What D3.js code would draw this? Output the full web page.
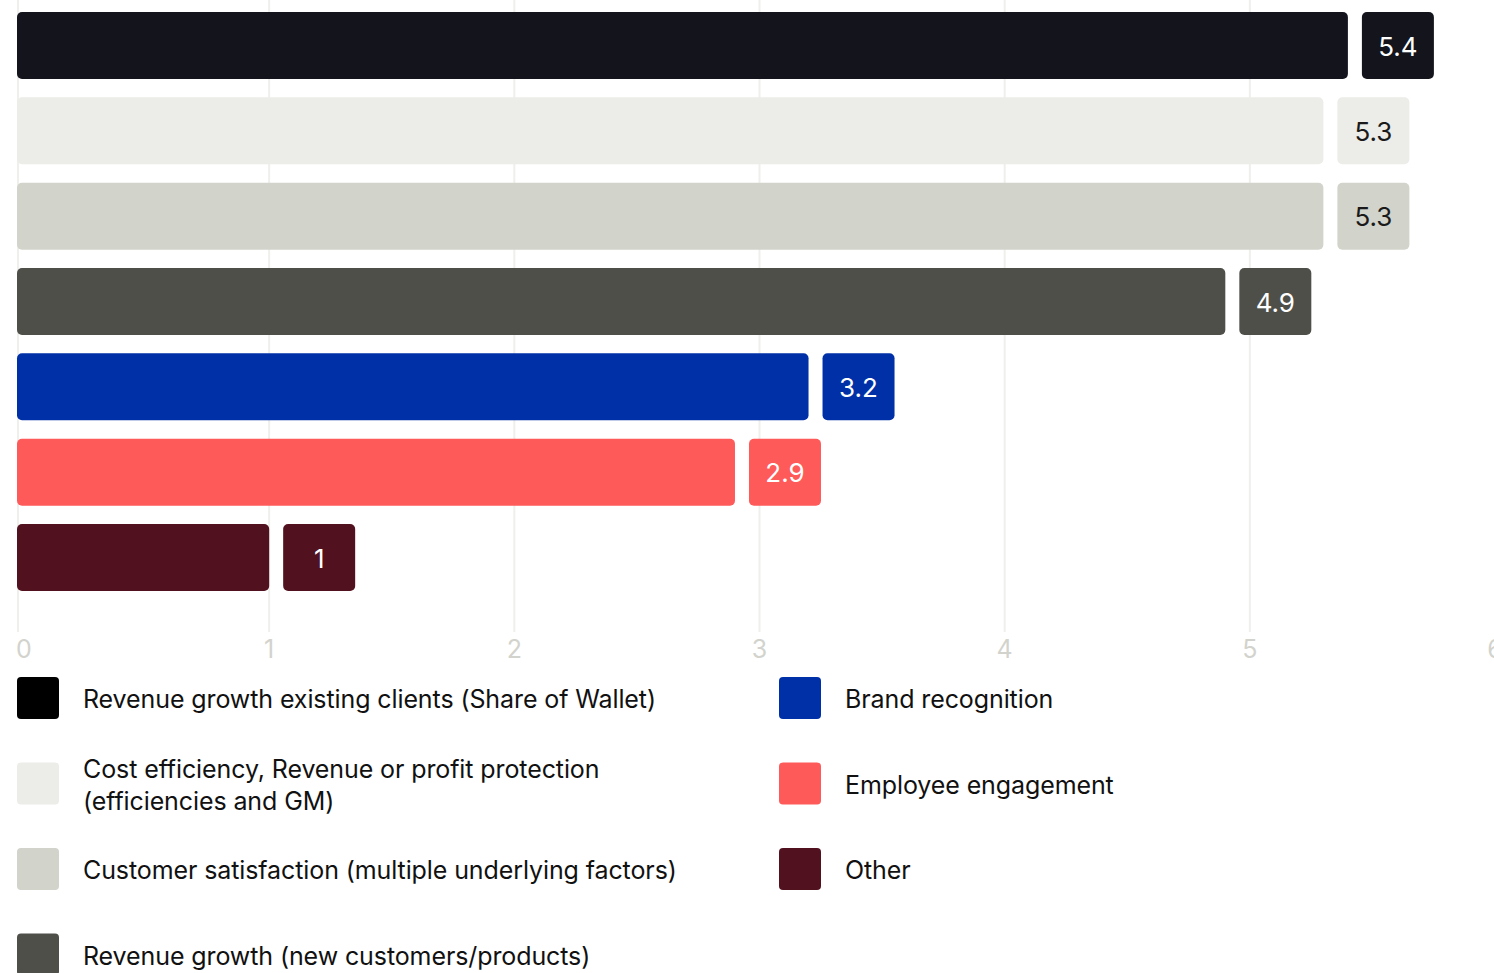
<!DOCTYPE html>
<html>
<head>
<meta charset="utf-8">
<script src="https://cdn.jsdelivr.net/npm/d3@7"></script>
<style>
  html, body { margin: 0; padding: 0; background: #ffffff; }
  svg { display: block; font-family: Inter, "Noto Sans", sans-serif; }
</style>
</head>
<body>
<svg id="chart" width="1494" height="973"></svg>
<script>
// Drivers of value, ranked
const categories = [
  "Revenue growth existing clients (Share of Wallet)",
  "Cost efficiency, Revenue or profit protection (efficiencies and GM)",
  "Customer satisfaction (multiple underlying factors)",
  "Revenue growth (new customers/products)",
  "Brand recognition",
  "Employee engagement",
  "Other"
];
const values = [5.4, 5.3, 5.3, 4.9, 3.2, 2.9, 1];
const barColors = ["#13141c", "#ecece8", "#d2d3cb", "#4f4f4a", "#0030a8", "#ff5a5a", "#52111e"];
const swatchColors = ["#000000", "#ecece8", "#d2d3cb", "#4f4f4a", "#0030a8", "#ff5a5a", "#52111e"];
const labelTextColors = ["#ffffff", "#1a1a1a", "#1a1a1a", "#ffffff", "#ffffff", "#ffffff", "#ffffff"];
const legendLines = [
  ["Revenue growth existing clients (Share of Wallet)"],
  ["Cost efficiency, Revenue or profit protection", "(efficiencies and GM)"],
  ["Customer satisfaction (multiple underlying factors)"],
  ["Revenue growth (new customers/products)"],
  ["Brand recognition"],
  ["Employee engagement"],
  ["Other"]
];
const tickValues = [0, 1, 2, 3, 4, 5, 6];

const svg = d3.select("#chart");

const x = d3.scaleLinear().domain([0, 6]).range([24, 1495]);
const y = d3.scaleBand().domain(categories).range([12, 591]).paddingInner(0.215).paddingOuter(0);

const barInset = 7;      // bars begin slightly left of the zero position
const labelGap = 14;
const labelWidth = 72;
const radius = 5;

// grid lines
const gridX = v => v === 0 ? x(0) - barInset + 1 : x(v);
svg.append("g")
  .selectAll("line")
  .data(tickValues.filter(v => v < 6))
  .join("line")
  .attr("x1", d => gridX(d)).attr("x2", d => gridX(d))
  .attr("y1", 0).attr("y2", 632)
  .attr("stroke", "#efefec")
  .attr("stroke-width", 2);

// tick labels
svg.append("g")
  .selectAll("text")
  .data(tickValues)
  .join("text")
  .attr("x", d => x(d))
  .attr("y", 658)
  .attr("text-anchor", "middle")
  .attr("font-size", 25)
  .attr("fill", "#d3d3cd")
  .text(d => d);

// bars
const rows = svg.append("g")
  .selectAll("g")
  .data(categories.map((c, i) => ({ c, v: values[i], i })))
  .join("g");

rows.append("rect")
  .attr("x", x(0) - barInset)
  .attr("y", d => y(d.c))
  .attr("width", d => x(d.v) - x(0) + barInset)
  .attr("height", y.bandwidth())
  .attr("rx", radius).attr("ry", radius)
  .attr("fill", d => barColors[d.i]);

// value boxes
rows.append("rect")
  .attr("x", d => x(d.v) + labelGap)
  .attr("y", d => y(d.c))
  .attr("width", labelWidth)
  .attr("height", y.bandwidth())
  .attr("rx", radius).attr("ry", radius)
  .attr("fill", d => barColors[d.i]);

rows.append("text")
  .attr("x", d => x(d.v) + labelGap + labelWidth / 2)
  .attr("y", d => y(d.c) + y.bandwidth() / 2 + 1)
  .attr("dy", "0.35em")
  .attr("text-anchor", "middle")
  .attr("font-size", 26)
  .attr("fill", d => labelTextColors[d.i])
  .text(d => d.v);

// legend: two columns
const legendCols = [17, 779];
const legendTop = 677;
const legendStep = 85.5;
const sw = 42;
const legend = svg.append("g")
  .selectAll("g")
  .data(categories.map((c, i) => ({ c, i, col: i < 4 ? 0 : 1, row: i < 4 ? i : i - 4 })))
  .join("g")
  .attr("transform", d => `translate(${legendCols[d.col]},${legendTop + d.row * legendStep})`);

legend.append("rect")
  .attr("width", sw).attr("height", sw)
  .attr("rx", 4).attr("ry", 4)
  .attr("fill", d => swatchColors[d.i]);

legend.append("text")
  .attr("x", 66)
  .attr("font-size", 25)
  .attr("letter-spacing", -0.1)
  .attr("fill", "#111111")
  .each(function(d) {
    const lines = legendLines[d.i];
    const lh = 32;
    const start = sw / 2 + 1.5 - (lines.length - 1) * lh / 2;
    d3.select(this).selectAll("tspan")
      .data(lines)
      .join("tspan")
      .attr("x", 66)
      .attr("y", (l, k) => start + k * lh)
      .attr("dy", "0.35em")
      .text(l => l);
  });
</script>
</body>
</html>
